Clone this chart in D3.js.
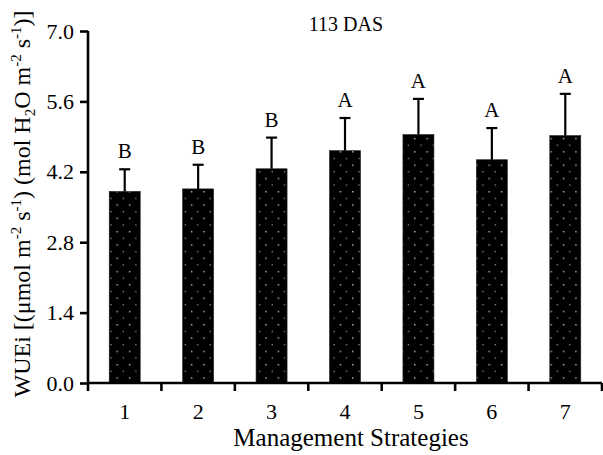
<!DOCTYPE html>
<html>
<head>
<meta charset="utf-8">
<script src="https://cdn.jsdelivr.net/npm/d3@7"></script>
<style>
  html, body { margin: 0; padding: 0; background: #fff; }
  svg { display: block; font-family: "Liberation Serif", "Times New Roman", serif; }
</style>
</head>
<body>
<svg id="chart" width="603" height="455"></svg>
<script>
// Instantaneous water use efficiency at 113 DAS, by management strategy
const strategies = ["1", "2", "3", "4", "5", "6", "7"];
const wuei = [3.81, 3.86, 4.26, 4.62, 4.94, 4.44, 4.92];
const wueiSE = [0.44, 0.48, 0.62, 0.65, 0.71, 0.63, 0.83];
const groups = ["B", "B", "B", "A", "A", "A", "A"];
const yTicks = [0, 1.4, 2.8, 4.2, 5.6, 7.0];

const SERIF = "Liberation Serif, Times New Roman, serif";
const svg = d3.select("#chart");
const margin = { left: 88, right: 1, top: 31, bottom: 72 };
const W = 603, H = 455;

const x = d3.scaleBand()
  .domain(strategies)
  .range([margin.left, W - margin.right])
  .paddingInner(0).paddingOuter(0);

const y = d3.scaleLinear()
  .domain([0, 7])
  .range([H - margin.bottom, margin.top]);

// dotted fill for the bars
const defs = svg.append("defs");
const pat = defs.append("pattern")
  .attr("id", "dots")
  .attr("patternUnits", "userSpaceOnUse")
  .attr("width", 12.4).attr("height", 13.3)
  .attr("x", 2).attr("y", 2);
pat.append("rect").attr("width", 12.4).attr("height", 13.3).attr("fill", "#000");
pat.append("rect").attr("x", 3).attr("y", 3).attr("width", 1.2).attr("height", 1.2).attr("fill", "#fff");
pat.append("rect").attr("x", 9.2).attr("y", 9.6).attr("width", 1.2).attr("height", 1.2).attr("fill", "#aaa");

const barW = 31;
const data = strategies.map((s, i) => ({ s, v: wuei[i], e: wueiSE[i], g: groups[i] }));

// bars
svg.append("g").selectAll("rect")
  .data(data).join("rect")
  .attr("x", d => x(d.s) + x.bandwidth() / 2 - barW / 2)
  .attr("y", d => y(d.v))
  .attr("width", barW)
  .attr("height", d => y(0) - y(d.v))
  .attr("fill", "url(#dots)")
  .attr("stroke", "#222")
  .attr("stroke-width", 0.6);

// upper error bars
const eb = svg.append("g").attr("stroke", "#000").attr("stroke-width", 2.2);
eb.selectAll("line.v").data(data).join("line")
  .attr("class", "v")
  .attr("x1", d => x(d.s) + x.bandwidth() / 2)
  .attr("x2", d => x(d.s) + x.bandwidth() / 2)
  .attr("y1", d => y(d.v))
  .attr("y2", d => y(d.v + d.e));
eb.selectAll("line.c").data(data).join("line")
  .attr("class", "c")
  .attr("x1", d => x(d.s) + x.bandwidth() / 2 - 5.5)
  .attr("x2", d => x(d.s) + x.bandwidth() / 2 + 5.5)
  .attr("y1", d => y(d.v + d.e))
  .attr("y2", d => y(d.v + d.e));

// significance letters
svg.append("g").selectAll("text")
  .data(data).join("text")
  .attr("x", d => x(d.s) + x.bandwidth() / 2)
  .attr("y", d => y(d.v + d.e) - 11)
  .attr("text-anchor", "middle")
  .attr("font-size", 21)
  .text(d => d.g);

// y axis
const yAxis = svg.append("g")
  .attr("transform", `translate(${margin.left},0)`)
  .call(d3.axisLeft(y).tickValues(yTicks).tickFormat(d3.format(".1f")).tickSize(8).tickPadding(6));
yAxis.select(".domain").attr("stroke-width", 2.6).attr("d", `M0,${y(7)}V${y(0)}`);
yAxis.selectAll(".tick line").attr("stroke-width", 2.6);
yAxis.selectAll("text").attr("font-size", 22).attr("font-family", SERIF).attr("fill", "#000");

// x axis with ticks at category boundaries
const xAxisG = svg.append("g").attr("transform", `translate(0,${y(0)})`);
xAxisG.append("line")
  .attr("x1", margin.left).attr("x2", W - margin.right)
  .attr("stroke", "#000").attr("stroke-width", 2.6);
const bounds = strategies.map(s => x(s)).concat([x(strategies[strategies.length - 1]) + x.bandwidth()]);
xAxisG.selectAll("line.t").data(bounds).join("line")
  .attr("class", "t")
  .attr("x1", d => d).attr("x2", d => d)
  .attr("y1", 0).attr("y2", 8)
  .attr("stroke", "#000").attr("stroke-width", 2.6);
xAxisG.selectAll("text").data(strategies).join("text")
  .attr("x", d => x(d) + x.bandwidth() / 2)
  .attr("y", 36)
  .attr("text-anchor", "middle")
  .attr("font-size", 22)
  .text(d => d);

// titles
svg.append("text")
  .attr("x", 346).attr("y", 31)
  .attr("text-anchor", "middle")
  .attr("font-size", 20)
  .text("113 DAS");

svg.append("text")
  .attr("x", 351).attr("y", 446)
  .attr("text-anchor", "middle")
  .attr("font-size", 25)
  .text("Management Strategies");

const yt = svg.append("text")
  .attr("transform", "translate(30,204) rotate(-90)")
  .attr("text-anchor", "middle")
  .attr("font-size", 24);
const parts = [
  ["WUEi [(\u03bcmol m", 0], ["-2", 1], [" s", 0], ["-1", 1], [") (mol H", 0], ["2", -1],
  ["O m", 0], ["-2", 1], [" s", 0], ["-1", 1], [")]", 0]
];
let prev = 0;
parts.forEach(([t, k]) => {
  const shift = k === 1 ? -9 : k === -1 ? 5 : 0;
  yt.append("tspan")
    .attr("dy", shift - prev)
    .attr("font-size", k === 0 ? 24 : 15)
    .text(t);
  prev = shift;
});
</script>
</body>
</html>
